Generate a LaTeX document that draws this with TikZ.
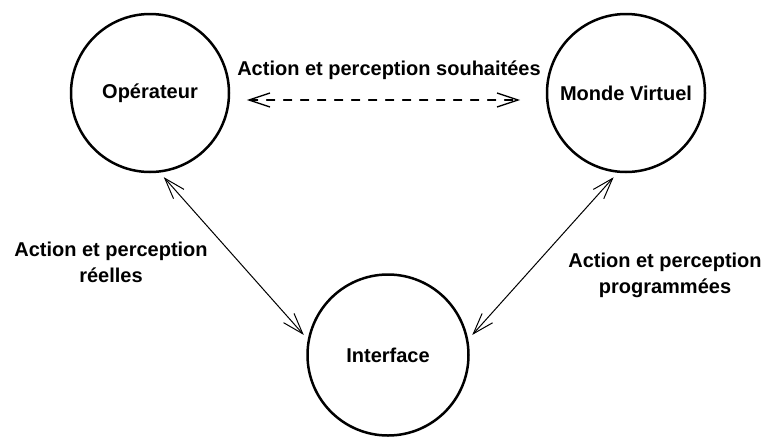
\documentclass[tikz,border=0pt]{standalone}
\usepackage{fontspec}
\setmainfont{Liberation Sans}
\usetikzlibrary{arrows.meta}

\begin{document}
\begin{tikzpicture}[x=1pt, y=-1pt, line cap=round, line join=round, font=\fontsize{20}{26}\selectfont\bfseries, >={Straight Barb[length=21pt, width=14pt]}]
	\tikzset{pole/.style={draw, circle, line width=2.5pt, minimum size=158pt, inner sep=0pt}}
	\tikzset{lien/.style={<->, line width=1pt, shorten <=6pt, shorten >=6pt}}
	\useasboundingbox (0,0) rectangle (766,437);
	\node[pole] (op) at (150,93) {Opérateur};
	\node[pole] (mv) at (626,93) {Monde Virtuel};
	\node[pole, minimum size=161pt] (if) at (388,355) {Interface};
	\draw[lien, line width=1.3pt, dash pattern=on 8pt off 9pt, shorten <=17pt, shorten >=26pt] (op.-5) -- (mv.185);
	\draw[lien] (op.-83) -- (if.169);
	\draw[lien] (mv.-96) -- (if.11);
	\node[anchor=base] (souhait) at (389,75) {Action et perception souhaitées};
	\node[align=center] (reel) at (111,262) {Action et perception\\réelles};
	\node[align=center] (prog) at (665,275) {Action et perception\\programmées};
	%	\draw[red] (0,0) rectangle (766,437);
\end{tikzpicture}
\end{document}
